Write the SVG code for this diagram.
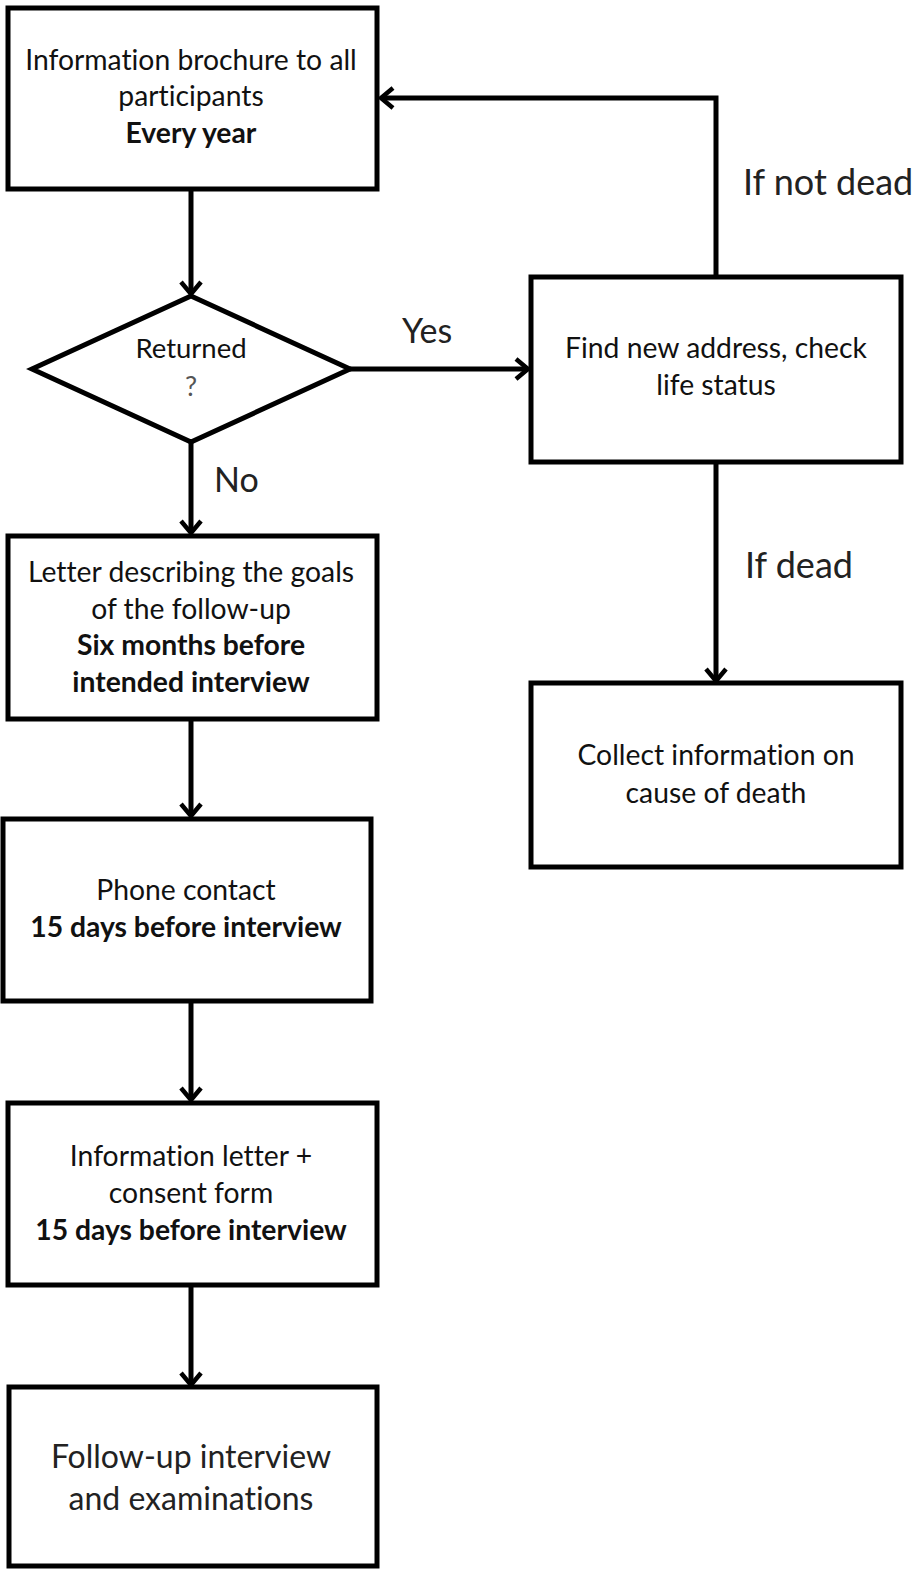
<svg xmlns="http://www.w3.org/2000/svg" width="917" height="1570" viewBox="0 0 917 1570">
<style>
text{font-variant-ligatures:none;font-feature-settings:"liga" 0}
.box{fill:#fff;stroke:#000;stroke-width:5}
.t{font-family:Lato,"Liberation Sans",sans-serif;font-size:28.3px;fill:#111;text-anchor:middle}
.b{font-weight:bold}
.lbl{font-family:Lato,"Liberation Sans",sans-serif;font-size:34px;fill:#222}
.lbl2{font-size:36px}
.big{font-size:32px;fill:#222}
.c{fill:none;stroke:#000;stroke-width:5}
</style>
<defs>
<marker id="ah" markerUnits="userSpaceOnUse" markerWidth="30" markerHeight="30" viewBox="-15 -15 30 30" refX="0" refY="0" orient="auto">
<path d="M-12,-10 L0,0 L-12,10" fill="none" stroke="#000" stroke-width="4.5"/>
</marker>
</defs>
<rect width="917" height="1570" fill="#fff"/>
<g id="connectors">
<line class="c" x1="191" y1="189" x2="191" y2="294" marker-end="url(#ah)"/>
<line class="c" x1="191" y1="442" x2="191" y2="533" marker-end="url(#ah)"/>
<line class="c" x1="350" y1="369" x2="528" y2="369" marker-end="url(#ah)"/>
<polyline class="c" points="716,277 716,98 381,98" marker-end="url(#ah)"/>
<line class="c" x1="716" y1="462" x2="716" y2="681" marker-end="url(#ah)"/>
<line class="c" x1="191" y1="720" x2="191" y2="816" marker-end="url(#ah)"/>
<line class="c" x1="191" y1="1001" x2="191" y2="1100" marker-end="url(#ah)"/>
<line class="c" x1="191" y1="1285" x2="191" y2="1385" marker-end="url(#ah)"/>
<text class="lbl" x="402" y="343">Yes</text>
<text class="lbl" x="214" y="492">No</text>
<text class="lbl lbl2" x="743" y="195">If not dead</text>
<text class="lbl lbl2" x="745" y="578">If dead</text>
</g>
<g id="n1">
<rect class="box" x="8" y="8" width="369" height="181"/>
<text class="t" x="191" y="70">Information brochure to all</text>
<text class="t" x="191" y="106">participants</text>
<text class="t b" x="191" y="143">Every year</text>
</g>
<g id="n2">
<polygon class="box" points="191,296 350,369 191,442 32,369"/>
<text class="t" x="191" y="358" style="font-size:27.5px">Returned</text>
<text class="t" x="191" y="396" style="font-size:27px;fill:#555">?</text>
</g>
<g id="n3">
<rect class="box" x="531" y="277" width="370" height="185"/>
<text class="t" x="716" y="358">Find new address, check</text>
<text class="t" x="716" y="395">life status</text>
</g>
<g id="n4">
<rect class="box" x="531" y="683" width="370" height="184"/>
<text class="t" x="716" y="765">Collect information on</text>
<text class="t" x="716" y="803">cause of death</text>
</g>
<g id="n5">
<rect class="box" x="8" y="536" width="369" height="183"/>
<text class="t" x="191" y="582">Letter describing the goals</text>
<text class="t" x="191" y="619">of the follow-up</text>
<text class="t b" x="191" y="655">Six months before</text>
<text class="t b" x="191" y="692">intended interview</text>
</g>
<g id="n6">
<rect class="box" x="3" y="819" width="368" height="182"/>
<text class="t" x="186" y="900">Phone contact</text>
<text class="t b" x="186" y="937">15 days before interview</text>
</g>
<g id="n7">
<rect class="box" x="8" y="1103" width="369" height="182"/>
<text class="t" x="191" y="1166">Information letter +</text>
<text class="t" x="191" y="1203">consent form</text>
<text class="t b" x="191" y="1240">15 days before interview</text>
</g>
<g id="n8">
<rect class="box" x="9" y="1387" width="368" height="179"/>
<text class="t big" x="191" y="1468">Follow-up interview</text>
<text class="t big" x="191" y="1510">and examinations</text>
</g>
</svg>
